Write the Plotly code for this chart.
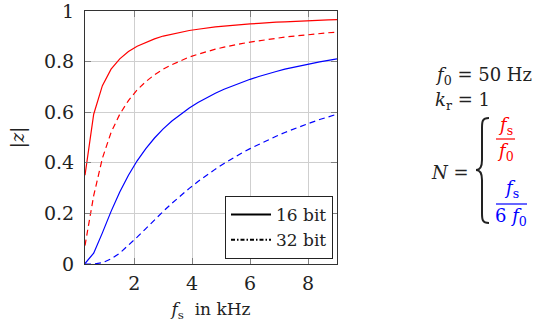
import plotly.graph_objects as go

# ---- data ----
fs_khz = [0.3, 0.6, 0.9, 1.2, 1.5, 1.8, 2.1, 2.4, 2.7, 3.0,
          3.3, 3.6, 3.9, 4.2, 4.5, 4.8, 5.1, 5.4, 5.7, 6.0,
          6.3, 6.6, 6.9, 7.2, 7.5, 7.8, 8.1, 8.4, 8.7, 9.0]

red_16bit = [0.351, 0.592, 0.705, 0.770, 0.811, 0.840, 0.861, 0.877, 0.890, 0.901,
             0.909, 0.916, 0.923, 0.928, 0.933, 0.937, 0.940, 0.944, 0.946, 0.949,
             0.951, 0.954, 0.956, 0.957, 0.959, 0.961, 0.962, 0.963, 0.965, 0.966]
red_32bit = [0.073, 0.270, 0.418, 0.520, 0.592, 0.646, 0.688, 0.721, 0.748, 0.770,
             0.788, 0.804, 0.818, 0.829, 0.840, 0.849, 0.857, 0.865, 0.871, 0.877,
             0.883, 0.888, 0.892, 0.897, 0.901, 0.904, 0.908, 0.911, 0.914, 0.916]
blue_16bit = [0.002, 0.043, 0.123, 0.208, 0.285, 0.351, 0.408, 0.456, 0.498, 0.534,
              0.565, 0.592, 0.617, 0.638, 0.658, 0.675, 0.691, 0.705, 0.718, 0.730,
              0.741, 0.752, 0.761, 0.770, 0.778, 0.785, 0.792, 0.799, 0.805, 0.811]
blue_32bit = [0.000, 0.000, 0.005, 0.020, 0.043, 0.073, 0.106, 0.140, 0.175, 0.208,
              0.240, 0.270, 0.299, 0.326, 0.351, 0.375, 0.397, 0.418, 0.438, 0.456,
              0.473, 0.490, 0.505, 0.520, 0.534, 0.547, 0.559, 0.571, 0.582, 0.592]

legend_labels = ["16 bit", "32 bit"]
x_ticks = [2, 4, 6, 8]
y_ticks = [0, 0.2, 0.4, 0.6, 0.8, 1]

FONT = "DejaVu Serif"
RED = "#ff0000"
BLUE = "#0000ff"
W, H = 541, 322
X0, X1, Y0, Y1 = 85, 337, 11, 264  # plot area in pixels


def px(x):
    return (x - X0) / (X1 - X0)


def py(y):
    return (Y1 - y) / (Y1 - Y0)


DASH = "6px,4px"

fig = go.Figure()
fig.add_trace(go.Scatter(x=fs_khz, y=red_16bit, mode="lines", line=dict(color=RED, width=1.2), showlegend=False))
fig.add_trace(go.Scatter(x=fs_khz, y=red_32bit, mode="lines", line=dict(color=RED, width=1.2, dash=DASH), showlegend=False))
fig.add_trace(go.Scatter(x=fs_khz, y=blue_16bit, mode="lines", line=dict(color=BLUE, width=1.2), showlegend=False))
fig.add_trace(go.Scatter(x=fs_khz, y=blue_32bit, mode="lines", line=dict(color=BLUE, width=1.2, dash=DASH), showlegend=False))

# legend-only entries
fig.add_trace(go.Scatter(x=[None], y=[None], mode="lines", name=legend_labels[0],
                         line=dict(color="black", width=2)))
fig.add_trace(go.Scatter(x=[None], y=[None], mode="lines", name=legend_labels[1],
                         line=dict(color="black", width=2, dash="4px,2px,1.5px,2px")))

axis_common = dict(
    showgrid=True, gridcolor="#cfcfcf", gridwidth=1,
    showline=True, linecolor="#333333", linewidth=1, mirror="ticks",
    ticks="inside", ticklen=6, tickcolor="#808080", tickwidth=1,
    zeroline=False, automargin=False, ticklabeloverflow="allow",
    tickfont=dict(family=FONT, size=19, color="#222"),
)

fig.update_xaxes(range=[0.3, 9.0], tickvals=x_ticks, ticktext=[str(v) for v in x_ticks],
                 ticklabelstandoff=2,
                 title=dict(text="<i>f</i><sub>s</sub>  in kHz", font=dict(family=FONT, size=17, color="#222"),
                            standoff=10),
                 **axis_common)
fig.update_yaxes(range=[0, 1], tickvals=y_ticks, ticktext=["0", "0.2", "0.4", "0.6", "0.8", "1"],
                 ticklabelstandoff=6,
                 title=dict(text="|<i>z</i>|", font=dict(family=FONT, size=18, color="#222"), standoff=14),
                 **axis_common)

annotations = []


def ann(text, x, y, color="#222", xanchor="left", size=18):
    annotations.append(dict(text=text, x=px(x), y=py(y), xref="paper", yref="paper",
                            xanchor=xanchor, yanchor="middle", showarrow=False,
                            font=dict(family=FONT, size=size, color=color)))


ann("<i>f</i><sub>0</sub> = 50 Hz", 433, 76)
ann("<i>k</i><sub>r</sub> = 1", 433, 101)
ann("<i>N</i> =", 471, 172, xanchor="right")
ann("<i>f</i><sub>s</sub>", 505, 126, color=RED, xanchor="center")
ann("<i>f</i><sub>0</sub>", 505, 152, color=RED, xanchor="center")
ann("<i>f</i><sub>s</sub>", 511, 189, color=BLUE, xanchor="center")
ann("6 <i>f</i><sub>0</sub>", 511, 217, color=BLUE, xanchor="center")

shapes = [
    dict(type="line", xref="paper", yref="paper", x0=px(496), x1=px(515), y0=py(139), y1=py(139),
         line=dict(color=RED, width=1.2)),
    dict(type="line", xref="paper", yref="paper", x0=px(496), x1=px(527), y0=py(204), y1=py(204),
         line=dict(color=BLUE, width=1.2)),
]

# curly brace
bx, btip, top, mid, bot = 489, 476, 118, 170, 223
path = (f"M {px(bx)},{py(top)} "
        f"C {px(482)},{py(top)} {px(482)},{py(top+4)} {px(482)},{py(top+10)} "
        f"L {px(482)},{py(mid-10)} "
        f"C {px(482)},{py(mid-4)} {px(480)},{py(mid)} {px(btip)},{py(mid)} "
        f"C {px(480)},{py(mid)} {px(482)},{py(mid+4)} {px(482)},{py(mid+10)} "
        f"L {px(482)},{py(bot-10)} "
        f"C {px(482)},{py(bot-4)} {px(482)},{py(bot)} {px(bx)},{py(bot)}")
shapes.append(dict(type="path", xref="paper", yref="paper", path=path,
                   line=dict(color="#222", width=2)))

fig.update_layout(
    width=W, height=H,
    margin=dict(l=X0, r=W - X1, t=Y0, b=H - Y1, pad=0, autoexpand=False),
    plot_bgcolor="white", paper_bgcolor="white",
    font=dict(family=FONT, size=18, color="#222"),
    legend=dict(x=px(333), y=py(259), xanchor="right", yanchor="bottom",
                bgcolor="white", bordercolor="#222", borderwidth=1,
                font=dict(family=FONT, size=17, color="#222"),
                tracegroupgap=0, itemwidth=40),
    annotations=annotations,
    shapes=shapes,
)

fig.write_html("out.html")
